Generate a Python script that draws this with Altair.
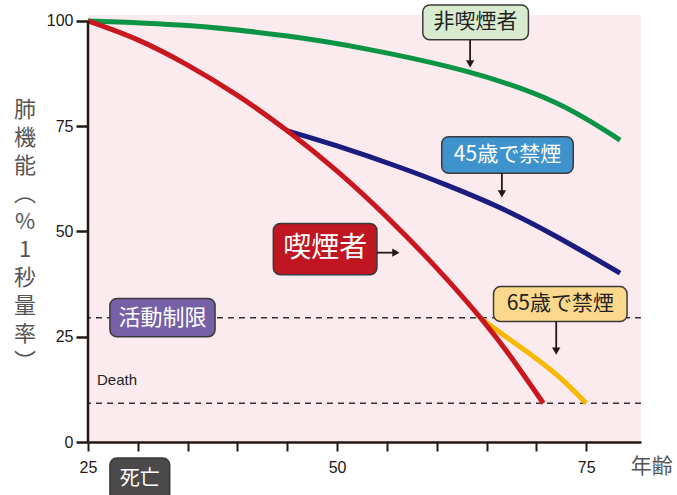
import altair as alt
import pandas as pd

# ---------------- data ----------------
AGE_NONSMOKER = [25, 35, 45, 53, 63, 72, 78.4]
FEV_NONSMOKER = [100, 98.9, 96.4, 93.3, 88.0, 80.5, 71.7]

AGE_SMOKER = [25, 30, 35, 40, 45, 50, 55, 60, 64.5, 67.5, 70.7]
FEV_SMOKER = [100, 95.5, 89.5, 82.3, 73.9, 64.3, 53.4, 41.3, 29.2, 20.0, 9.2]

AGE_QUIT45 = [45, 50, 56.2, 61, 66.2, 72, 78.4]
FEV_QUIT45 = [73.9, 70.3, 65.3, 61.0, 55.8, 48.8, 40.1]

AGE_QUIT65 = [64.5, 67, 69.7, 72.5, 75.0]
FEV_QUIT65 = [29.2, 24.9, 20.3, 15.0, 9.2]

SERIES = ["非喫煙者", "45歳で禁煙", "65歳で禁煙", "喫煙者"]
SERIES_COLORS = ["#0b9444", "#1b1c80", "#f6b900", "#c8171e"]

LIMIT_LEVEL = 29.5
DEATH_LEVEL = 9.2

X_TICKS = [25, 30, 35, 40, 45, 50, 55, 60, 65, 70, 75]
Y_TICKS = [0, 25, 50, 75, 100]

BOX_TEXT = ["非喫煙者", "45歳で禁煙", "喫煙者", "65歳で禁煙", "活動制限", "死亡"]
BOX_FILL = ["#d8ebcf", "#3f93cd", "#bf1621", "#fcd88c", "#7661a6", "#4b4949"]
BOX_TEXT_COLOR = ["#222222", "#ffffff", "#ffffff", "#222222", "#ffffff", "#ffffff"]
BOX_FONT = [21, 21, 28, 21, 22, 20]
BOX_X1 = [58.6, 60.5, 43.6, 65.7, 27.2, 27.2]
BOX_X2 = [69.2, 73.7, 54.0, 79.1, 37.75, 33.2]
BOX_Y1 = [95.5, 63.8, 39.7, 28.6, 25.0, -14.0]
BOX_Y2 = [103.8, 72.5, 51.9, 36.9, 34.1, -3.8]

ARROW_X1 = [63.35, 66.54, 54.0, 71.99]
ARROW_X2 = [63.35, 66.54, 55.9, 71.99]
ARROW_Y1 = [95.5, 63.8, 44.96, 28.6]
ARROW_Y2 = [89.8, 58.9, 44.96, 21.6]
ARROW_SHAPE = ["triangle-down", "triangle-down", "triangle-right", "triangle-down"]

Y_TITLE = ["肺", "機", "能", "︵", "%", "1", "秒", "量", "率", "︶"]

INK = "#231815"
JP = "Noto Sans CJK JP"
LAT = "Liberation Sans"

# ---------------- tables ----------------
curves = pd.concat([
    pd.DataFrame({"age": AGE_NONSMOKER, "fev": FEV_NONSMOKER, "series": SERIES[0]}),
    pd.DataFrame({"age": AGE_QUIT45, "fev": FEV_QUIT45, "series": SERIES[1]}),
    pd.DataFrame({"age": AGE_QUIT65, "fev": FEV_QUIT65, "series": SERIES[2]}),
    pd.DataFrame({"age": AGE_SMOKER, "fev": FEV_SMOKER, "series": SERIES[3]}),
], ignore_index=True)

levels = pd.DataFrame({"fev": [LIMIT_LEVEL, DEATH_LEVEL]})

boxes = pd.DataFrame({
    "label": BOX_TEXT, "fill": BOX_FILL, "tc": BOX_TEXT_COLOR, "fs": BOX_FONT,
    "x1": BOX_X1, "x2": BOX_X2, "y1": BOX_Y1, "y2": BOX_Y2,
})
boxes["cx"] = (boxes["x1"] + boxes["x2"]) / 2
boxes["cy"] = (boxes["y1"] + boxes["y2"]) / 2

arrows = pd.DataFrame({"x1": ARROW_X1, "x2": ARROW_X2, "y1": ARROW_Y1,
                       "y2": ARROW_Y2, "shape": ARROW_SHAPE})

yline = pd.DataFrame({"x": [25], "y1": [0], "y2": [100]})

notes = pd.DataFrame({"x": [25.9, 81.58], "y": [14.7, -5.94],
                      "t": ["Death", "年齢"]})

# ---------------- scales / axes ----------------
xs = alt.Scale(domain=[25, 80.5], nice=False, zero=False)
ys = alt.Scale(domain=[0, 101.4], nice=False, zero=False)

xaxis = alt.Axis(values=X_TICKS, title=None, grid=False,
                 labelExpr="datum.value % 25 == 0 ? datum.label : ''",
                 labelOverlap=False, labelFlush=False,
                 tickSize=9, tickWidth=2, tickColor=INK,
                 domainColor=INK, domainWidth=2.5,
                 labelFont=LAT, labelFontSize=16, labelColor=INK, labelPadding=8)
yaxis = alt.Axis(values=Y_TICKS, title=None, grid=False, domain=False,
                 tickSize=12, tickWidth=2.5, tickColor=INK,
                 labelFont=LAT, labelFontSize=16, labelColor=INK, labelPadding=3)


def X(f):
    return alt.X(f, type="quantitative", scale=xs, axis=xaxis)


def Y(f):
    return alt.Y(f, type="quantitative", scale=ys, axis=yaxis)


dashed = alt.Chart(levels).mark_rule(color="#333333", strokeWidth=1.3,
                                     strokeDash=[6, 5]).encode(y=Y("fev"))

lines = alt.Chart(curves).mark_line(strokeWidth=5, interpolate="natural",
                                    strokeCap="butt").encode(
    x=X("age"), y=Y("fev"),
    color=alt.Color("series:N", scale=alt.Scale(domain=SERIES, range=SERIES_COLORS),
                    legend=None),
)

yrule = alt.Chart(yline).mark_rule(color=INK, strokeWidth=2.5).encode(
    x=X("x"), y=Y("y1"), y2="y2")

rects = alt.Chart(boxes).mark_rect(cornerRadius=7, stroke="#3a3a3a",
                                   strokeWidth=1.5).encode(
    x=X("x1"), x2="x2", y=Y("y1"), y2="y2",
    fill=alt.Fill("fill:N", scale=None))

box_text = alt.Chart(boxes).mark_text(font=JP, align="center",
                                      baseline="middle").encode(
    x=X("cx"), y=Y("cy"), text="label:N",
    color=alt.Color("tc:N", scale=None),
    size=alt.Size("fs:Q", scale=None))

arrow_rules = alt.Chart(arrows).mark_rule(color=INK, strokeWidth=1.8).encode(
    x=X("x1"), x2="x2", y=Y("y1"), y2="y2")

arrow_heads = alt.Chart(arrows).mark_point(filled=True, color=INK, opacity=1,
                                           size=70).encode(
    x=X("x2"), y=Y("y2"), shape=alt.Shape("shape:N", scale=None))

death = alt.Chart(notes.iloc[[0]]).mark_text(font=LAT, fontSize=15, align="left",
                                             baseline="middle", color="#222222").encode(
    x=X("x"), y=Y("y"), text="t:N")

age_title = alt.Chart(notes.iloc[[1]]).mark_text(font=JP, fontSize=21, align="center",
                                                 baseline="middle", color="#555555").encode(
    x=X("x"), y=Y("y"), text="t:N")

ytitle = alt.Chart(yline).mark_text(font=JP, fontSize=22, lineHeight=28,
                                    align="center", baseline="middle",
                                    color="#555555").encode(
    x=alt.value(-63), y=alt.value(95), text=alt.value(Y_TITLE))

chart = alt.layer(
    dashed, lines, yrule, rects, box_text, arrow_rules, arrow_heads,
    death, age_title, ytitle,
).properties(
    width=553, height=427,
    autosize=alt.AutoSizeParams(type="none"),
    padding={"left": 88, "top": 15, "right": 36, "bottom": 53},
    background="white",
).configure_view(fill="#fcebee", stroke=None)

chart.save("out.html", embed_options={"renderer": "svg", "actions": False})
